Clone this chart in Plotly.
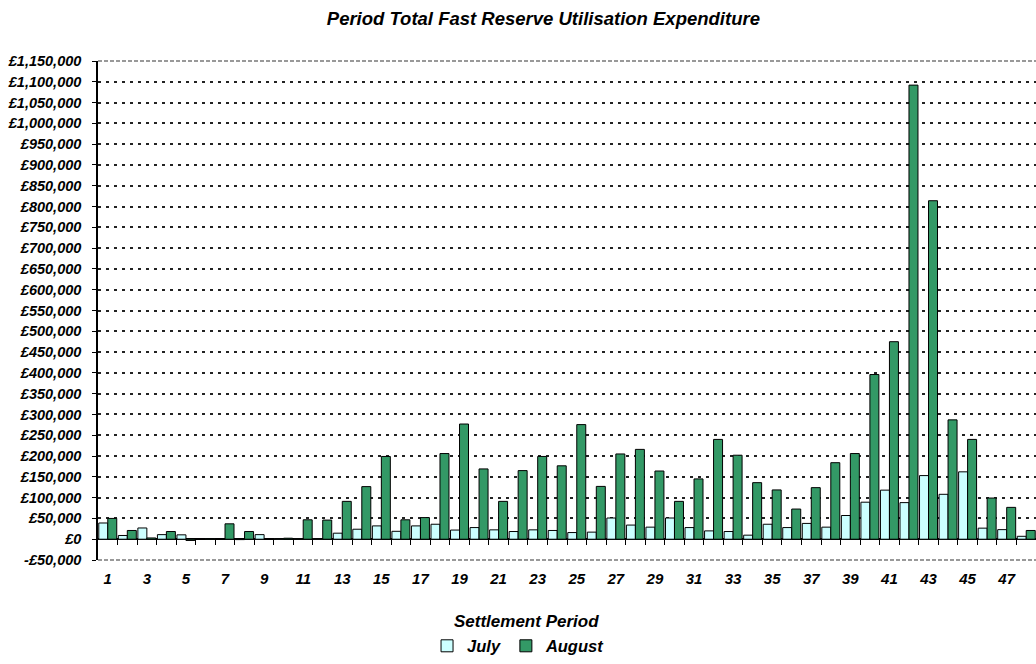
import plotly.graph_objects as go

periods = list(range(1, 49))
july = [39000, 9000, 27000, 11000, 10500, 0, 0, -1000, 11000, 1500, 800, 1500,
        14500, 24000, 32000, 19000, 32000, 36000, 22000, 28000, 22500, 18500, 22500, 21000,
        16000, 17000, 51000, 34000, 29000, 51000, 28000, 20000, 18500, 9700, 36000, 28000,
        38000, 29000, 57000, 89000, 118000, 88000, 153000, 108000, 162000, 26600, 23000, 7000]
august = [50000, 21000, 3000, 18500, -3000, 1500, 37000, 18500, 0, 2400, 46700, 46000,
          91000, 126500, 199000, 46700, 52000, 206000, 277000, 169000, 91000, 165000, 199000, 176500,
          275600, 127000, 205000, 216000, 164000, 91000, 145000, 240000, 202000, 136000, 118500, 72500,
          124000, 184000, 206000, 396000, 475000, 1092000, 814000, 287000, 240000, 99000, 76600, 21000]

y_min, y_max, y_step = -50000, 1150000, 50000
y_ticks = list(range(y_min, y_max + 1, y_step))
x_tick_vals = list(range(1, 49, 2))


def fmt_money(v):
    return ("-£" if v < 0 else "£") + f"{abs(v):,}"


FONT = "Liberation Sans, Arial, sans-serif"


def bf(size):
    return dict(family=FONT, size=size, color="black", weight="bold", style="italic")


fig = go.Figure()
fig.add_trace(go.Bar(x=periods, y=july, name="July",
                     marker=dict(color="#CCFFFF", line=dict(color="black", width=1))))
fig.add_trace(go.Bar(x=periods, y=august, name="August",
                     marker=dict(color="#339966", line=dict(color="black", width=1))))
# invisible trace to activate the boundary-tick axis at zero
fig.add_trace(go.Scatter(x=[periods[0]], y=[0], xaxis="x2", mode="markers",
                         marker=dict(opacity=0), showlegend=False, hoverinfo="skip"))

zero_pos = (0 - y_min) / (y_max - y_min)

fig.update_layout(
    width=1036, height=664,
    margin=dict(l=98, r=0, t=61, b=104, autoexpand=False),
    paper_bgcolor="white", plot_bgcolor="white",
    barmode="group", bargap=0.08, bargroupgap=0,
    title=dict(text="Period Total Fast Reserve Utilisation Expenditure",
               x=0.5245, xref="container", xanchor="center", y=0.972, yanchor="middle",
               font=bf(18.5)),
    font=bf(14.5),
    xaxis=dict(range=[0.5, 48.5], tickmode="array", tickvals=x_tick_vals,
               ticktext=[str(v) for v in x_tick_vals],
               ticks="outside", ticklen=5, tickcolor="rgba(0,0,0,0)",
               showline=False, showgrid=False, zeroline=False, automargin=False,
               tickfont=bf(15)),
    xaxis2=dict(range=[0.5, 48.5], overlaying="x", anchor="free", position=zero_pos,
                side="bottom", tickmode="array",
                tickvals=[p + 0.5 for p in periods[:-1]],
                ticks="outside", ticklen=5, tickcolor="black", tickwidth=1,
                showticklabels=False, showline=False, showgrid=False, zeroline=False,
                automargin=False),
    yaxis=dict(range=[y_min, y_max], tickmode="array", tickvals=y_ticks,
               ticktext=[fmt_money(v) for v in y_ticks],
               ticks="outside", ticklen=4, tickcolor="black", ticklabelstandoff=8,
               showline=True, linecolor="black", linewidth=1.5,
               showgrid=True, gridcolor="#222222", gridwidth=2, griddash="3px,5px",
               zeroline=True, zerolinecolor="black", zerolinewidth=1.5,
               automargin=False, tickfont=bf(14.5)),
    legend=dict(orientation="h", x=0.501, xref="container", xanchor="center",
                y=0.027, yref="container", yanchor="middle",
                font=bf(16.5), itemwidth=30, traceorder="normal"),
    showlegend=True,
    annotations=[dict(text="Settlement Period", xref="paper", yref="paper",
                      x=0.457, y=-0.1224, xanchor="center", yanchor="middle",
                      showarrow=False, font=bf(17))],
)

for yv in (0, 1):
    fig.add_shape(type="line", xref="x domain", yref="y domain", x0=0, x1=1, y0=yv, y1=yv,
                  line=dict(color="#999999", width=2, dash="4px,2px"))

fig.write_html("out.html", config={"displayModeBar": False},
               post_script="document.body.style.margin='0';document.body.style.overflow='hidden';")
